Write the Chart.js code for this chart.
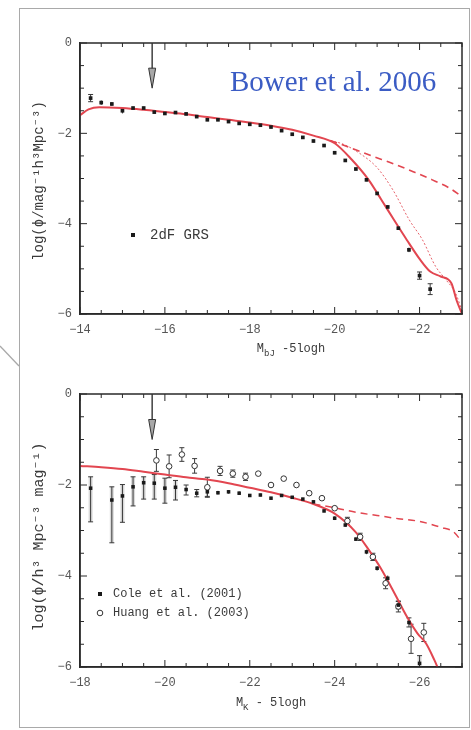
<!DOCTYPE html>
<html>
<head>
<meta charset="utf-8">
<script src="https://cdn.jsdelivr.net/npm/chart.js@4.4.1/dist/chart.umd.min.js"></script>
<style>
  html, body { margin: 0; padding: 0; background: #fff; }
  body { width: 471px; height: 730px; position: relative; overflow: hidden; }
  #frame { position: absolute; left: 19px; top: 8px; width: 451px; height: 720px;
           border: 1.5px solid #a9a9a9; box-sizing: border-box; }
  #corner { position: absolute; left: 0; top: 0; }
  .panel { position: absolute; left: 0; width: 471px; }
  #top { top: 0; height: 360px; }
  #bottom { top: 360px; height: 370px; }
</style>
</head>
<body>
<div id="frame"></div>
<svg id="corner" width="471" height="730"><line x1="0" y1="346" x2="19" y2="366" stroke="#a9a9a9" stroke-width="1.3"/></svg>
<div class="panel" id="top"><canvas id="cTop" width="471" height="360"></canvas></div>
<div class="panel" id="bottom"><canvas id="cBot" width="471" height="370"></canvas></div>

<script>
// ---------- b_J-band luminosity function (2dF GRS) ----------
const bjMag = [-14.25, -14.5, -14.75, -15.0, -15.25, -15.5, -15.75, -16.0, -16.25, -16.5,
               -16.75, -17.0, -17.25, -17.5, -17.75, -18.0, -18.25, -18.5, -18.75, -19.0,
               -19.25, -19.5, -19.75, -20.0, -20.25, -20.5, -20.75, -21.0, -21.25, -21.5,
               -21.75, -22.0, -22.25];
const bjLogPhi = [-1.22, -1.32, -1.35, -1.50, -1.44, -1.44, -1.53, -1.56, -1.54, -1.57,
                  -1.63, -1.70, -1.70, -1.74, -1.78, -1.80, -1.82, -1.86, -1.94, -2.02,
                  -2.09, -2.17, -2.27, -2.43, -2.60, -2.79, -3.03, -3.33, -3.63, -4.10,
                  -4.58, -5.15, -5.45];
const bjErr = [0.08, 0.05, 0.04, 0.06, 0.03, 0.03, 0.03, 0.03, 0.03, 0.03,
               0.03, 0.03, 0.03, 0.03, 0.03, 0.03, 0.03, 0.03, 0.03, 0.03,
               0.03, 0.03, 0.03, 0.03, 0.03, 0.03, 0.03, 0.03, 0.04, 0.04,
               0.05, 0.08, 0.12];

// model curves, b_J band
const bjModelMag    = [-14.0, -14.2, -14.45, -15.0, -15.5, -16.0, -16.5, -17.0, -17.5, -18.0,
                       -18.5, -19.0, -19.5, -20.0, -20.4, -20.8, -21.1, -21.4, -21.7, -22.0,
                       -22.25, -22.5, -22.75, -22.87, -23.0];
const bjModelLogPhi = [-1.60, -1.47, -1.42, -1.44, -1.48, -1.53, -1.58, -1.64, -1.70, -1.76,
                       -1.83, -1.92, -2.05, -2.22, -2.58, -3.03, -3.47, -3.92, -4.36, -4.78,
                       -5.06, -5.17, -5.32, -5.69, -6.0];
const bjDotMag      = [-19.9, -20.2, -20.6, -21.0, -21.37, -21.76, -22.07, -22.38, -22.62, -22.85, -23.0];
const bjDotLogPhi   = [-2.16, -2.24, -2.45, -2.76, -3.25, -3.92, -4.36, -4.95, -5.24, -5.54, -5.93];
const bjDashMag     = [-19.9, -20.4, -20.9, -21.35, -21.85, -22.3, -22.7, -23.0];
const bjDashLogPhi  = [-2.16, -2.33, -2.51, -2.66, -2.85, -3.03, -3.21, -3.40];

// ---------- K-band luminosity function ----------
const coleMag = [-18.25, -18.75, -19.0, -19.25, -19.5, -19.75, -20.0, -20.25, -20.5, -20.75,
                 -21.0, -21.25, -21.5, -21.75, -22.0, -22.25, -22.5, -22.75, -23.0, -23.25,
                 -23.5, -23.75, -24.0, -24.25, -24.5, -24.75, -25.0, -25.25, -25.5, -25.75, -26.0];
const coleLogPhi = [-2.07, -2.33, -2.24, -2.04, -1.95, -1.96, -2.07, -2.05, -2.10, -2.18,
                    -2.15, -2.17, -2.15, -2.18, -2.23, -2.22, -2.29, -2.23, -2.27, -2.31,
                    -2.37, -2.57, -2.73, -2.88, -3.19, -3.47, -3.83, -4.05, -4.64, -5.02, -5.92];
const coleErrUp = [0.25, 0.29, 0.25, 0.22, 0.13, 0.19, 0.22, 0.15, 0.10, 0.08,
                   0.10, 0.04, 0.04, 0.04, 0.03, 0.03, 0.03, 0.03, 0.03, 0.03,
                   0.03, 0.03, 0.04, 0.04, 0.04, 0.05, 0.05, 0.06, 0.08, 0.10, 0.17];
const coleErrDn = [0.74, 0.94, 0.58, 0.42, 0.36, 0.35, 0.33, 0.28, 0.12, 0.08,
                   0.10, 0.04, 0.04, 0.04, 0.03, 0.03, 0.03, 0.03, 0.03, 0.03,
                   0.03, 0.03, 0.04, 0.04, 0.04, 0.05, 0.05, 0.06, 0.08, 0.10, 0.30];

const huangMag = [-19.8, -20.1, -20.4, -20.7, -21.0, -21.3, -21.6, -21.9, -22.2, -22.5,
                  -22.8, -23.1, -23.4, -23.7, -24.0, -24.3, -24.6, -24.9, -25.2, -25.5, -25.8, -26.1];
const huangLogPhi = [-1.46, -1.59, -1.33, -1.58, -2.05, -1.69, -1.75, -1.82, -1.75, -2.00,
                     -1.86, -2.00, -2.18, -2.29, -2.51, -2.79, -3.14, -3.58, -4.16, -4.67, -5.38, -5.24];
const huangErr = [0.24, 0.25, 0.15, 0.16, 0.22, 0.10, 0.08, 0.08, 0.05, 0.06,
                  0.05, 0.05, 0.06, 0.06, 0.06, 0.08, 0.08, 0.08, 0.12, 0.12, 0.32, 0.20];

const kModelMag    = [-18.0, -18.5, -19.0, -19.5, -20.0, -20.5, -21.0, -21.5, -22.0, -22.5,
                      -23.0, -23.5, -24.0, -24.5, -24.8, -25.1, -25.45, -25.7, -25.95, -26.15,
                      -26.35, -26.42];
const kModelLogPhi = [-1.58, -1.61, -1.65, -1.71, -1.77, -1.83, -1.88, -1.96, -2.06, -2.16,
                      -2.28, -2.42, -2.63, -3.04, -3.42, -3.85, -4.45, -4.89, -5.26, -5.48,
                      -5.85, -6.0];
const kDashMag     = [-23.5, -24.0, -24.5, -25.0, -25.5, -26.0, -26.5, -26.8, -27.0];
const kDashLogPhi  = [-2.42, -2.50, -2.60, -2.67, -2.74, -2.80, -2.93, -3.03, -3.25];

// ---------- text ----------
const bjLegend = '2dF GRS';
const kLegend = ['Cole et al. (2001)', 'Huang et al. (2003)'];
const modelLabel = 'Bower et al. 2006';
const bjYTitle = 'log(ϕ/mag⁻¹h³Mpc⁻³)';
const kYTitle = 'log(ϕ/h³ Mpc⁻³ mag⁻¹)';
const bjXTitle = [['M', 0], ['bJ', 1], [' -5logh', 0]];
const kXTitle = [['M', 0], ['K', 1], [' - 5logh', 0]];

const MONO = '"Liberation Mono", "DejaVu Sans Mono", monospace';
const SERIF = '"Liberation Serif", "DejaVu Serif", serif';
const RED = 'rgb(226, 70, 80)';

const pts = (xs, ys) => xs.map((x, i) => ({ x, y: ys[i] }));
const fmtTick = v => (Math.abs(v % 2) < 1e-9) ? (v < 0 ? '\u2212' + (-v) : String(v)) : '';

// error bars drawn underneath the markers
const errorBars = {
  id: 'errorBars',
  beforeDatasetsDraw(chart) {
    const { ctx, scales: { x, y } } = chart;
    const a = chart.chartArea;
    ctx.save();
    ctx.beginPath(); ctx.rect(a.left, a.top, a.right - a.left, a.bottom - a.top); ctx.clip();
    chart.data.datasets.forEach(ds => {
      if (!ds.errUp) return;
      ds.data.forEach((p, i) => {
        const px = x.getPixelForValue(p.x);
        const yHi = y.getPixelForValue(p.y + ds.errUp[i]);
        const yLo = y.getPixelForValue(p.y - ds.errDn[i]);
        if (ds.errBand && yLo - yHi > 12) {
          ctx.fillStyle = 'rgba(150,150,150,0.35)';
          ctx.fillRect(px - 2, yHi, 4, yLo - yHi);
        }
        ctx.strokeStyle = '#3a3a3a'; ctx.lineWidth = 1;
        ctx.beginPath(); ctx.moveTo(px, yHi); ctx.lineTo(px, yLo); ctx.stroke();
        if (yLo - yHi > 6) {
          ctx.beginPath();
          ctx.moveTo(px - 2.5, yHi); ctx.lineTo(px + 2.5, yHi);
          ctx.moveTo(px - 2.5, yLo); ctx.lineTo(px + 2.5, yLo);
          ctx.stroke();
        }
      });
    });
    ctx.restore();
  }
};

function drawMarker(ctx, style, cx, cy) {
  if (style === 'circle') {
    ctx.fillStyle = '#fff'; ctx.strokeStyle = '#333'; ctx.lineWidth = 1;
    ctx.beginPath(); ctx.arc(cx, cy, 2.8, 0, Math.PI * 2); ctx.fill(); ctx.stroke();
  } else {
    ctx.fillStyle = '#1a1a1a';
    ctx.fillRect(cx - 2, cy - 2, 4, 4);
  }
}

function drawRich(ctx, parts, cx, cy, size, family, color) {
  const sub = Math.round(size * 0.72);
  let w = 0;
  parts.forEach(([t, s]) => { ctx.font = `${s ? sub : size}px ${family}`; w += ctx.measureText(t).width; });
  let x = cx - w / 2;
  ctx.fillStyle = color; ctx.textAlign = 'left'; ctx.textBaseline = 'alphabetic';
  parts.forEach(([t, s]) => {
    ctx.font = `${s ? sub : size}px ${family}`;
    ctx.fillText(t, x, cy + (s ? size * 0.32 : 0));
    x += ctx.measureText(t).width;
  });
}

// box, inward ticks, arrow, legend and titles
const panelDecor = {
  id: 'panelDecor',
  afterDraw(chart, args, o) {
    const { ctx, scales: { x, y } } = chart;
    const a = chart.chartArea;
    ctx.save();
    ctx.strokeStyle = '#2a2a2a'; ctx.lineWidth = 1.5;
    ctx.strokeRect(a.left, a.top, a.right - a.left, a.bottom - a.top);
    ctx.lineWidth = 1;
    x.ticks.forEach(t => {
      const px = x.getPixelForValue(t.value);
      const len = Math.abs(t.value % 2) < 1e-9 ? 7 : 4;
      ctx.beginPath();
      ctx.moveTo(px, a.bottom); ctx.lineTo(px, a.bottom - len);
      ctx.moveTo(px, a.top); ctx.lineTo(px, a.top + len);
      ctx.stroke();
    });
    y.ticks.forEach(t => {
      const py = y.getPixelForValue(t.value);
      const len = Math.abs(t.value % 2) < 1e-9 ? 7 : 4;
      ctx.beginPath();
      ctx.moveTo(a.left, py); ctx.lineTo(a.left + len, py);
      ctx.moveTo(a.right, py); ctx.lineTo(a.right - len, py);
      ctx.stroke();
    });

    // arrow marking the faint-end limit
    const ax = x.getPixelForValue(o.arrowAt);
    const ay0 = y.getPixelForValue(0), ay1 = y.getPixelForValue(o.arrowTip);
    ctx.strokeStyle = '#333'; ctx.lineWidth = 1.4;
    ctx.beginPath(); ctx.moveTo(ax, ay0); ctx.lineTo(ax, ay1 - 18); ctx.stroke();
    ctx.fillStyle = '#a8a8a8'; ctx.lineWidth = 1;
    ctx.beginPath(); ctx.moveTo(ax - 3.5, ay1 - 20); ctx.lineTo(ax + 3.5, ay1 - 20); ctx.lineTo(ax, ay1); ctx.closePath();
    ctx.fill(); ctx.stroke();

    // legend
    ctx.font = `${o.legendSize}px ${MONO}`; ctx.textBaseline = 'middle'; ctx.textAlign = 'left';
    o.legend.forEach(e => {
      const lx = a.left + e.dx, ly = a.top + e.dy;
      drawMarker(ctx, e.style, lx, ly);
      ctx.fillStyle = '#3a3a3a';
      ctx.fillText(e.text, lx + o.legendGap, ly);
    });

    // model annotation
    if (o.note) {
      ctx.font = `${o.note.size}px ${SERIF}`; ctx.fillStyle = o.note.color;
      ctx.textBaseline = 'alphabetic';
      ctx.fillText(o.note.text, a.left + o.note.dx, a.top + o.note.dy);
    }

    // axis titles
    drawRich(ctx, o.xTitle, o.xTitlePos[0], o.xTitlePos[1], 12, MONO, '#3a3a3a');
    ctx.save();
    ctx.translate(o.yTitlePos[0], o.yTitlePos[1]); ctx.rotate(-Math.PI / 2);
    ctx.font = `${o.yTitleSize}px ${MONO}`; ctx.fillStyle = '#3a3a3a';
    ctx.textAlign = 'center'; ctx.textBaseline = 'middle';
    ctx.fillText(o.yTitle, 0, 0);
    ctx.restore();
    ctx.restore();
  }
};

function axes(xMin, xMax, xAxisH) {
  const common = {
    type: 'linear',
    grid: { display: false, drawTicks: false },
    border: { display: true, color: '#2a2a2a', width: 1.5 },
  };
  return {
    x: { ...common, min: xMin, max: xMax, reverse: true,
         afterFit: s => { s.height = xAxisH; },
         ticks: { stepSize: 0.5, autoSkip: false, maxRotation: 0, padding: 9,
                  font: { family: MONO, size: 12 }, color: '#555', callback: fmtTick } },
    y: { ...common, min: -6, max: 0,
         afterFit: s => { s.width = 80; },
         ticks: { stepSize: 0.5, autoSkip: false, padding: 8,
                  font: { family: MONO, size: 12 }, color: '#555', callback: fmtTick } }
  };
}

const lineDs = (xs, ys, width, dash, color) => ({
  data: pts(xs, ys), showLine: true, pointRadius: 0, borderColor: color || RED,
  borderWidth: width, borderDash: dash, cubicInterpolationMode: 'monotone', fill: false
});

// upper panel: b_J band
new Chart(document.getElementById('cTop'), {
  type: 'scatter',
  data: {
    datasets: [
      { data: pts(bjMag, bjLogPhi), errUp: bjErr, errDn: bjErr, pointStyle: 'rect',
        pointRadius: 2.6, backgroundColor: '#1a1a1a', borderWidth: 0 },
      lineDs(bjModelMag, bjModelLogPhi, 2, []),
      lineDs(bjDotMag, bjDotLogPhi, 1, [2, 2], 'rgba(226,70,80,0.85)'),
      lineDs(bjDashMag, bjDashLogPhi, 1.6, [7, 5])
    ]
  },
  options: {
    responsive: false, animation: false,
    layout: { padding: { top: 43, right: 8, left: 0, bottom: 0 } },
    scales: axes(-23, -14, 46),
    plugins: {
      legend: { display: false }, tooltip: { enabled: false },
      panelDecor: {
        arrowAt: -15.7, arrowTip: -1.0,
        legendSize: 14, legendGap: 17,
        legend: [{ dx: 53, dy: 192, style: 'rect', text: bjLegend }],
        note: { text: modelLabel, dx: 150, dy: 48, size: 29, color: '#3b5cc4' },
        xTitle: bjXTitle, xTitlePos: [291, 352],
        yTitle: bjYTitle, yTitlePos: [39, 181], yTitleSize: 14
      }
    }
  },
  plugins: [errorBars, panelDecor]
});

// lower panel: K band
new Chart(document.getElementById('cBot'), {
  type: 'scatter',
  data: {
    datasets: [
      { data: pts(coleMag, coleLogPhi), errUp: coleErrUp, errDn: coleErrDn, errBand: true,
        pointStyle: 'rect', pointRadius: 2.5, backgroundColor: '#1a1a1a', borderWidth: 0 },
      { data: pts(huangMag, huangLogPhi), errUp: huangErr, errDn: huangErr,
        pointStyle: 'circle', pointRadius: 2.8, backgroundColor: '#fff', borderColor: '#333', borderWidth: 1 },
      lineDs(kModelMag, kModelLogPhi, 2, []),
      lineDs(kDashMag, kDashLogPhi, 1.5, [7, 5])
    ]
  },
  options: {
    responsive: false, animation: false,
    layout: { padding: { top: 34, right: 8, left: 0, bottom: 0 } },
    scales: axes(-27, -18, 63),
    plugins: {
      legend: { display: false }, tooltip: { enabled: false },
      panelDecor: {
        arrowAt: -19.7, arrowTip: -1.0,
        legendSize: 12, legendGap: 13,
        legend: [{ dx: 20, dy: 200, style: 'rect', text: kLegend[0] },
                 { dx: 20, dy: 219, style: 'circle', text: kLegend[1] }],
        xTitle: kXTitle, xTitlePos: [271, 346],
        yTitle: kYTitle, yTitlePos: [39, 177], yTitleSize: 15
      }
    }
  },
  plugins: [errorBars, panelDecor]
});
</script>
</body>
</html>
